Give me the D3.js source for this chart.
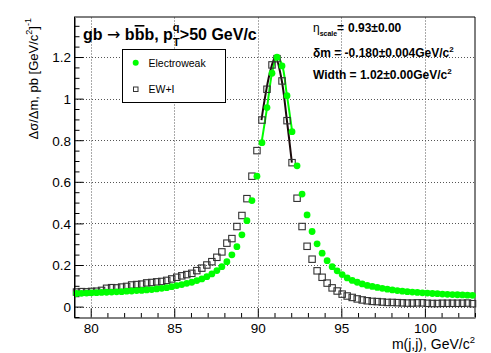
<!DOCTYPE html>
<html>
<head>
<meta charset="utf-8">
<script src="https://cdn.jsdelivr.net/npm/d3@7"></script>
<style>
  body { margin: 0; background: #fff; }
  text { font-family: "Liberation Sans", Arial, sans-serif; }
</style>
</head>
<body>
<div id="caja"></div>
<script>
// bin centres, 80 bins of 0.3 GeV from 79 to 103
var binCentres = d3.range(80).map(function(k) { return +(79.15 + 0.3 * k).toFixed(2); });

// Electroweak (green dots)
var ewValues = [
  0.063, 0.064, 0.065, 0.066, 0.067, 0.068, 0.069, 0.070, 0.071, 0.072,
  0.074, 0.075, 0.077, 0.078, 0.080, 0.082, 0.085, 0.088, 0.091, 0.096,
  0.101, 0.106, 0.112, 0.117, 0.125, 0.133, 0.144, 0.157, 0.173, 0.192,
  0.216, 0.249, 0.288, 0.345, 0.413, 0.510, 0.627, 0.788, 0.957, 1.122,
  1.199, 1.157, 1.014, 0.841, 0.677, 0.541, 0.441, 0.361, 0.302, 0.257,
  0.221, 0.192, 0.172, 0.154, 0.138, 0.126, 0.117, 0.109, 0.102, 0.097,
  0.092, 0.088, 0.084, 0.080, 0.077, 0.074, 0.072, 0.070, 0.068, 0.066,
  0.065, 0.063, 0.062, 0.060, 0.059, 0.058, 0.057, 0.056, 0.055, 0.054
];

// EW+I (open squares)
var ewiValues = [
  0.070, 0.072, 0.071, 0.073, 0.074, 0.078, 0.088, 0.091, 0.090, 0.094,
  0.097, 0.104, 0.106, 0.108, 0.114, 0.116, 0.119, 0.121, 0.126, 0.133,
  0.141, 0.148, 0.154, 0.160, 0.173, 0.185, 0.200, 0.216, 0.237, 0.263,
  0.305, 0.327, 0.385, 0.438, 0.519, 0.627, 0.750, 0.897, 1.045, 1.162,
  1.192, 1.085, 0.894, 0.692, 0.521, 0.385, 0.290, 0.228, 0.172, 0.141,
  0.113, 0.090, 0.075, 0.060, 0.051, 0.044, 0.037, 0.032, 0.028, 0.025,
  0.024, 0.022, 0.020, 0.020, 0.019, 0.018, 0.017, 0.017, 0.018, 0.018,
  0.016, 0.015, 0.015, 0.016, 0.016, 0.016, 0.016, 0.016, 0.017, 0.014
];

// fit curves near the peak
var fitEwX = [90.22, 90.55, 90.85, 91.15, 91.45, 91.74, 92.06];
var fitEwY = [0.786, 0.954, 1.122, 1.202, 1.162, 1.018, 0.841];
var fitEwiX = [90.22, 90.42, 90.71, 91.05, 91.41, 91.74, 92.04];
var fitEwiY = [0.897, 1.000, 1.120, 1.200, 1.098, 0.897, 0.692];

var xTicks = [80, 85, 90, 95, 100];
var yTicks = [0, 0.2, 0.4, 0.6, 0.8, 1, 1.2];

var w = 491, h = 353;
var m = {left: 74, top: 17.5, right: 475, bottom: 317};

var svg = d3.select('#caja')
  .append('svg')
  .attr('width', w)
  .attr('height', h);

var x = d3.scaleLinear().domain([79, 103]).range([m.left, m.right]);
var y = d3.scaleLinear().domain([-0.05, 1.39]).range([m.bottom, m.top]);

// grid
var grid = svg.append('g')
  .attr('stroke', '#555')
  .attr('stroke-dasharray', '1,2')
  .attr('stroke-width', 1);
grid.selectAll('line.gx').data(xTicks).enter().append('line')
  .attr('x1', function(d) { return Math.round(x(d)) + 0.5; })
  .attr('x2', function(d) { return Math.round(x(d)) + 0.5; })
  .attr('y1', m.top).attr('y2', m.bottom);
grid.selectAll('line.gy').data(yTicks).enter().append('line')
  .attr('y1', function(d) { return Math.round(y(d)) + 0.5; })
  .attr('y2', function(d) { return Math.round(y(d)) + 0.5; })
  .attr('x1', m.left).attr('x2', m.right);

// frame top/right
svg.append('line').attr('x1', m.left).attr('x2', m.right).attr('y1', 17).attr('y2', 17)
  .attr('stroke', '#000');
svg.append('line').attr('x1', m.right).attr('x2', m.right).attr('y1', 17).attr('y2', m.bottom)
  .attr('stroke', '#000');

// axes
var xAxis = svg.append('g')
  .attr('transform', 'translate(0,' + (m.bottom + 0.5) + ')')
  .call(d3.axisBottom(x).tickValues(d3.range(79, 104, 1)).tickSize(0).tickFormat(''));
xAxis.select('.domain').attr('stroke', '#000');
xAxis.selectAll('.tick line').attr('stroke', '#000')
  .attr('y2', function(d) { return d % 5 === 0 ? -9 : -4.5; });

svg.append('g')
  .attr('transform', 'translate(0,' + (m.bottom + 16) + ')')
  .call(d3.axisBottom(x).tickValues(xTicks).tickSize(0).tickPadding(0))
  .call(function(g) { g.select('.domain').remove(); })
  .selectAll('text')
  .attr('font-family', '"Liberation Sans", Arial, sans-serif')
  .attr('font-size', 13.5).attr('fill', '#000').attr('dy', 0);

var yAxis = svg.append('g')
  .attr('transform', 'translate(' + (m.left + 0.5) + ',0)')
  .call(d3.axisLeft(y).tickValues(d3.range(-0.05, 1.391, 0.05)).tickSize(0).tickFormat(''));
yAxis.select('.domain').attr('stroke', '#000');
yAxis.selectAll('.tick line').attr('stroke', '#000')
  .attr('x2', function(d) { return Math.abs(d * 5 - Math.round(d * 5)) < 1e-6 ? 9 : 5; });

svg.append('g')
  .attr('transform', 'translate(' + (m.left - 3) + ',0)')
  .call(d3.axisLeft(y).tickValues(yTicks).tickSize(0).tickPadding(0)
    .tickFormat(function(d) { return d3.format('')(+d.toFixed(1)); }))
  .call(function(g) { g.select('.domain').remove(); })
  .selectAll('text')
  .attr('font-family', '"Liberation Sans", Arial, sans-serif')
  .attr('font-size', 13.5).attr('fill', '#000').attr('dy', '0.36em');

// fit curves
var lineFn = d3.line()
  .x(function(d) { return x(d[0]); })
  .y(function(d) { return y(d[1]); })
  .curve(d3.curveCatmullRom);

svg.append('path')
  .datum(d3.zip(fitEwX, fitEwY))
  .attr('d', lineFn)
  .attr('fill', 'none').attr('stroke', '#00ff00').attr('stroke-width', 2);
svg.append('path')
  .datum(d3.zip(fitEwiX, fitEwiY))
  .attr('d', lineFn)
  .attr('fill', 'none').attr('stroke', '#1a0a0a').attr('stroke-width', 2);

// EW+I squares
svg.append('g').selectAll('rect')
  .data(d3.zip(binCentres, ewiValues))
  .enter().append('rect')
  .attr('x', function(d) { return x(d[0]) - 3.2; })
  .attr('y', function(d) { return y(d[1]) - 3.2; })
  .attr('width', 6.4).attr('height', 6.4)
  .attr('fill', 'none').attr('stroke', '#333').attr('stroke-width', 1.1);

// Electroweak dots
svg.append('g').selectAll('circle')
  .data(d3.zip(binCentres, ewValues))
  .enter().append('circle')
  .attr('cx', function(d) { return x(d[0]); })
  .attr('cy', function(d) { return y(d[1]); })
  .attr('r', 3.4)
  .attr('fill', '#00ff00');

// left axis line on top
svg.append('line').attr('x1', m.left + 0.5).attr('x2', m.left + 0.5).attr('y1', 17).attr('y2', m.bottom + 0.5)
  .attr('stroke', '#000');

// legend
var leg = svg.append('g');
leg.append('rect').attr('x', 122.5).attr('y', 49.5).attr('width', 103).attr('height', 53)
  .attr('fill', '#fff').attr('stroke', '#000');
leg.append('circle').attr('cx', 135.7).attr('cy', 62.7).attr('r', 3).attr('fill', '#00ff00');
leg.append('rect').attr('x', 133.5).attr('y', 87).attr('width', 4.5).attr('height', 4.5)
  .attr('fill', 'none').attr('stroke', '#333');
leg.append('text').attr('x', 148.5).attr('y', 66.5).attr('font-size', 10.5).text('Electroweak');
leg.append('text').attr('x', 148.5).attr('y', 93).attr('font-size', 10.5).text('EW+I');

// title
var t = svg.append('text').attr('x', 83).attr('y', 40)
  .attr('font-size', 16).attr('font-weight', 'bold');
t.append('tspan').text('gb ');
t.append('tspan').attr('font-family', '"DejaVu Sans"').attr('font-weight', 'normal').text('\u2192');
t.append('tspan').text(' b');
t.append('tspan').attr('text-decoration', 'overline').text('b');
t.append('tspan').text('b, p');
t.append('tspan').attr('font-size', 11).attr('dy', -9).text('q');
t.append('tspan').attr('font-size', 11).attr('dx', -6.5).attr('dy', 15).text('T');
t.append('tspan').attr('dy', -6).text('>50 GeV/c');

// fit results
var s1 = svg.append('text').attr('y', 32).attr('font-size', 12).attr('font-weight', 'bold');
s1.append('tspan').attr('x', 313).attr('font-weight', 'normal').text('\u03b7');
s1.append('tspan').attr('font-size', 7).attr('dy', 4).text('scale');
s1.append('tspan').attr('x', 337).attr('dy', -4).text('=');
s1.append('tspan').attr('x', 348).text('0.93\u00b10.00');

var s2 = svg.append('text').attr('x', 313).attr('y', 57).attr('font-size', 12).attr('font-weight', 'bold');
s2.append('tspan').text('\u03b4m = -0.180\u00b10.004GeV/c');
s2.append('tspan').attr('font-size', 8).attr('dy', -5).text('2');

var s3 = svg.append('text').attr('x', 313).attr('y', 79).attr('font-size', 12).attr('font-weight', 'bold');
s3.append('tspan').text('Width = 1.02\u00b10.00GeV/c');
s3.append('tspan').attr('font-size', 8).attr('dy', -5).text('2');

// axis titles
var xl = svg.append('text').attr('x', m.right).attr('y', 349).attr('text-anchor', 'end').attr('font-size', 14);
xl.append('tspan').text('m(j,j), GeV/c');
xl.append('tspan').attr('font-size', 9.5).attr('dy', -6).text('2');

var yl = svg.append('text').attr('transform', 'translate(38,' + 18 + ') rotate(-90)')
  .attr('text-anchor', 'end').attr('font-size', 13);
yl.append('tspan').text('\u0394\u03c3/\u0394m, pb [GeV/c');
yl.append('tspan').attr('font-size', 9).attr('dy', -6).text('2');
yl.append('tspan').attr('dy', 6).text(']');
yl.append('tspan').attr('font-size', 9).attr('dy', -7).text('-1');
</script>
</body>
</html>
